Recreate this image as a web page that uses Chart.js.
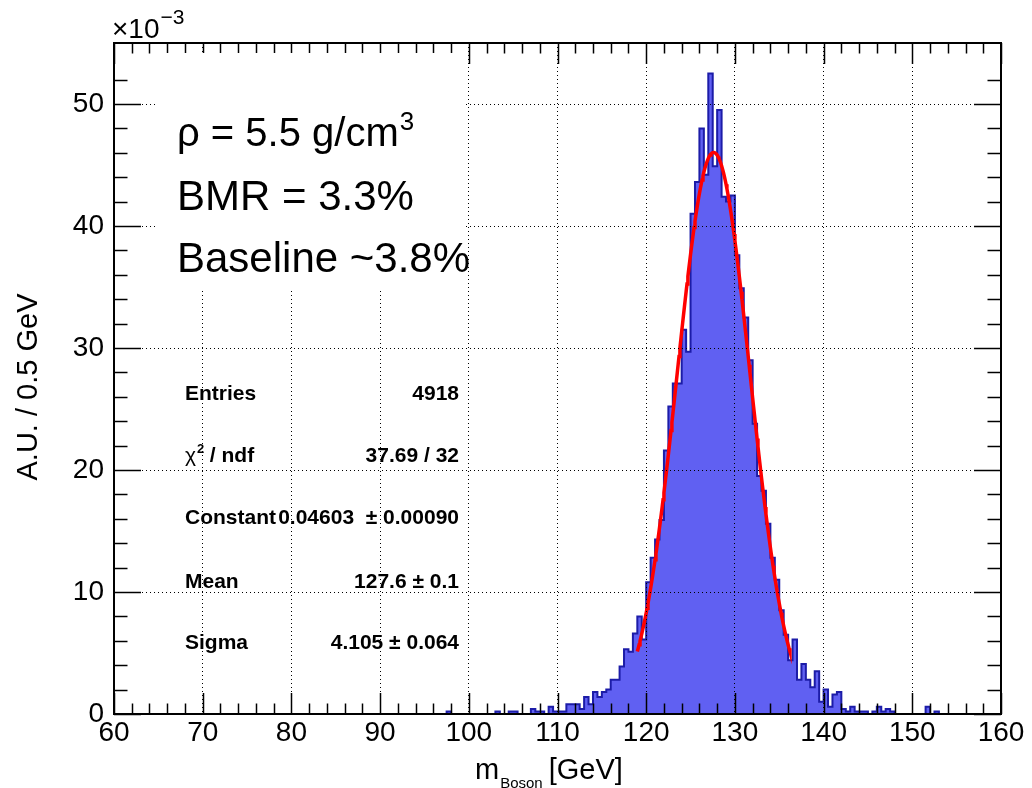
<!DOCTYPE html>
<html>
<head>
<meta charset="utf-8">
<script src="https://cdn.jsdelivr.net/npm/chart.js@4.4.1/dist/chart.umd.min.js"></script>
<style>
  html, body { margin: 0; padding: 0; background: #ffffff; }
  canvas { display: block; }
</style>
</head>
<body>
<canvas id="massPlot" width="1032" height="788"></canvas>
<script>
// Reconstructed boson mass distribution, 0.5 GeV bins, bin contents in units of 1e-3
const massRange = [60, 160];
const binWidth = 0.5;
const firstFilledBinLow = 97.5;
const binValues = [
  0.2, 0, 0, 0, 0, 0, 0, 0, 0, 0, 0,            // 97.5 - 102.5
  0.2, 0, 0, 0.2, 0.2, 0, 0, 0,                 // 103.0 - 106.5
  0.4, 0.2, 0.2, 0, 0.6, 0.2, 0.2, 0.2,         // 107.0 - 110.5
  0.8, 0.8, 0.8, 0.4, 1.4, 0.8, 1.8, 1.4,       // 111.0 - 114.5
  1.8, 2.0, 2.8, 2.8, 3.9, 5.3, 5.1, 6.6,       // 115.0 - 118.5
  8.0, 6.1, 10.8, 12.8, 14.3, 15.9, 21.6, 25.2, // 119.0 - 122.5
  27.1, 27.1, 31.5, 29.7, 41.0, 43.6, 48.0, 44.2, // 123.0 - 126.5
  52.5, 44.9, 49.5, 42.4, 42.0, 42.5, 37.6, 34.9, // 127.0 - 130.5
  32.5, 29.0, 23.8, 19.5, 18.3, 15.6, 12.8, 11.0, // 131.0 - 134.5
  8.5, 6.5, 4.4, 6.1, 2.8, 4.1, 2.8, 2.2,       // 135.0 - 138.5
  3.5, 1.0, 2.0, 0.6, 1.6, 1.8, 0.4, 0.2,       // 139.0 - 142.5
  0.6, 0.2, 0.2, 0.2, 0, 0.2, 0.6, 0.2,         // 143.0 - 146.5
  0.4, 0.2, 0, 0, 0, 0, 0, 0,                   // 147.0 - 150.5
  0, 0.6, 0, 0.2                                // 151.0 - 152.5
];

// Gaussian fit result (from the statistics box) and its fit window
const fitConstant = 46.03;   // 0.04603 in units of 1e-3
const fitMean = 127.6;
const fitSigma = 4.105;
const fitRange = [119.0, 136.2];

const xMajorStep = 10, xMinorStep = 2;
const yRange = [0, 55];
const yMajorStep = 10, yMinorStep = 2;

const statLabels = ['Entries', 'χ2 / ndf', 'Constant', 'Mean', 'Sigma'];
const statValues = ['4918', '37.69 / 32', '0.04603  ± 0.00090', '127.6 ± 0.1', '4.105 ± 0.064'];
const noteLines = ['ρ = 5.5 g/cm', 'BMR = 3.3%', 'Baseline ~3.8%'];
const yTitle = 'A.U. / 0.5 GeV';

const FONT = '"Liberation Sans", Arial, Helvetica, sans-serif';

// Histogram as low-edge points, stepped so each value spans its whole bin
const histPoints = [];
const nBins = Math.round((massRange[1] - massRange[0]) / binWidth);
const firstIndex = Math.round((firstFilledBinLow - massRange[0]) / binWidth);
for (let i = 0; i < nBins; i++) {
  const k = i - firstIndex;
  const v = (k >= 0 && k < binValues.length) ? binValues[k] : 0;
  histPoints.push({ x: massRange[0] + i * binWidth, y: v });
}
histPoints.push({ x: massRange[1], y: 0 });

// Fitted Gaussian evaluated over the fit window
const fitPoints = [];
const fitSteps = Math.round((fitRange[1] - fitRange[0]) / 0.1);
for (let i = 0; i <= fitSteps; i++) {
  const m = fitRange[0] + i * 0.1;
  const d = (m - fitMean) / fitSigma;
  fitPoints.push({ x: m, y: fitConstant * Math.exp(-0.5 * d * d) });
}

const canvas = document.getElementById('massPlot');
const ctx = canvas.getContext('2d');

const isMajor = (v, step) => Math.abs(v / step - Math.round(v / step)) < 1e-6;

// Frame, inward ticks, annotation box, axis titles and statistics text
const framePlugin = {
  id: 'frameAndText',
  afterDraw(chart) {
    const c = chart.ctx;
    const a = chart.chartArea;
    const xs = chart.scales.x, ys = chart.scales.y;
    c.save();
    c.strokeStyle = '#000';
    c.lineWidth = 1.5;
    const seg = (x1, y1, x2, y2) => { c.beginPath(); c.moveTo(x1, y1); c.lineTo(x2, y2); c.stroke(); };

    xs.ticks.forEach(t => {
      if (!isMajor(t.value, xMinorStep)) return;
      const px = Math.round(xs.getPixelForValue(t.value)) + 0.5;
      const len = isMajor(t.value, xMajorStep) ? 21 : 10.5;
      seg(px, a.bottom, px, a.bottom - len);
      seg(px, a.top, px, a.top + len);
    });
    ys.ticks.forEach(t => {
      if (!isMajor(t.value, yMinorStep)) return;
      const py = Math.round(ys.getPixelForValue(t.value)) + 0.5;
      const len = isMajor(t.value, yMajorStep) ? 27 : 13.5;
      seg(a.left, py, a.left + len, py);
      seg(a.right, py, a.right - len, py);
    });

    c.lineWidth = 2;
    c.strokeRect(a.left, a.top, a.right - a.left, a.bottom - a.top);

    // white annotation pad
    c.fillStyle = '#ffffff';
    c.fillRect(155, 53, 311, 237);

    c.fillStyle = '#000';
    c.textBaseline = 'alphabetic';
    c.textAlign = 'left';
    c.font = '40px ' + FONT;
    c.fillText(noteLines[0], 177, 146);
    const w0 = c.measureText(noteLines[0]).width;
    c.font = '26px ' + FONT;
    c.fillText('3', 177 + w0 + 1, 130);
    c.font = '42px ' + FONT;
    c.fillText(noteLines[1], 177, 210);
    c.fillText(noteLines[2], 177, 272);

    // statistics box (transparent)
    const rowBase = [400, 462, 524, 588, 649];
    statLabels.forEach((lab, i) => {
      const yb = rowBase[i];
      c.textAlign = 'left';
      if (lab.startsWith('χ')) {
        c.font = '21px ' + FONT;
        c.fillText('χ', 185, yb);
        const wc = c.measureText('χ').width;
        c.font = 'bold 13px ' + FONT;
        c.fillText('2', 185 + wc + 1, yb - 9);
        c.font = 'bold 21px ' + FONT;
        c.fillText(' / ndf', 185 + wc + 8, yb);
      } else {
        c.font = 'bold 21px ' + FONT;
        c.fillText(lab, 185, yb);
      }
      c.font = 'bold 21px ' + FONT;
      c.textAlign = 'right';
      c.fillText(statValues[i], 459, yb);
    });

    // exponent of the y axis
    c.textAlign = 'left';
    c.font = '28px ' + FONT;
    c.fillText('×10', 112, 38);
    const we = c.measureText('×10').width;
    c.font = '21px ' + FONT;
    c.fillText('−3', 112 + we + 1, 24);

    // x axis title with subscript
    c.font = '29px ' + FONT;
    c.fillText('m', 475, 779);
    let xx = 475 + c.measureText('m').width + 1;
    c.font = '15px ' + FONT;
    c.fillText('Boson', xx, 788);
    xx += c.measureText('Boson').width - 2;
    c.font = '29px ' + FONT;
    c.fillText(' [GeV]', xx, 779);

    // y axis title
    c.save();
    c.translate(29, 387);
    c.rotate(-Math.PI / 2);
    c.textAlign = 'center';
    c.textBaseline = 'middle';
    c.font = '29px ' + FONT;
    c.fillText(yTitle, 0, 0);
    c.restore();

    c.restore();
  }
};

const gridWidth = (step, lo, hi) => (cx) => {
  const v = cx.tick ? cx.tick.value : NaN;
  return (isMajor(v, step) && v > lo && v < hi) ? 1 : 0;
};

new Chart(ctx, {
  type: 'line',
  data: {
    datasets: [
      {
        label: 'Gaussian fit',
        data: fitPoints,
        borderColor: '#ff0000',
        borderWidth: 3.5,
        pointRadius: 0,
        fill: false,
        tension: 0,
        order: 0
      },
      {
        label: 'm_Boson',
        data: histPoints,
        stepped: 'before',
        borderColor: '#1c1ca8',
        borderWidth: 2,
        backgroundColor: 'rgb(96, 96, 242)',
        fill: 'origin',
        pointRadius: 0,
        order: 1
      }
    ]
  },
  options: {
    responsive: false,
    animation: false,
    devicePixelRatio: 1,
    layout: { padding: { top: 43, right: 31, left: 0, bottom: 0 } },
    plugins: { legend: { display: false }, tooltip: { enabled: false } },
    scales: {
      x: {
        type: 'linear',
        min: massRange[0],
        max: massRange[1],
        afterFit(s) { s.height = 74; s.paddingRight = 0; s.paddingLeft = 0; },
        ticks: {
          stepSize: xMinorStep,
          autoSkip: false,
          maxRotation: 0,
          padding: 2,
          color: '#000',
          font: { family: FONT, size: 28 },
          callback: (v) => isMajor(v, xMajorStep) ? String(v) : ''
        },
        grid: {
          drawTicks: false,
          color: '#000',
          lineWidth: gridWidth(xMajorStep, massRange[0], massRange[1]),
          borderDash: [1, 3],
          z: 1
        },
        border: { display: false, dash: [1, 3] }
      },
      y: {
        type: 'linear',
        min: yRange[0],
        max: yRange[1],
        afterFit(s) { s.width = 114; },
        ticks: {
          stepSize: yMinorStep,
          autoSkip: false,
          padding: 10,
          color: '#000',
          font: { family: FONT, size: 28 },
          callback: (v) => isMajor(v, yMajorStep) ? String(v) : ''
        },
        grid: {
          drawTicks: false,
          color: '#000',
          lineWidth: gridWidth(yMajorStep, yRange[0], yRange[1]),
          borderDash: [1, 3],
          z: 1
        },
        border: { display: false, dash: [1, 3] }
      }
    }
  },
  plugins: [framePlugin]
});
</script>
</body>
</html>
